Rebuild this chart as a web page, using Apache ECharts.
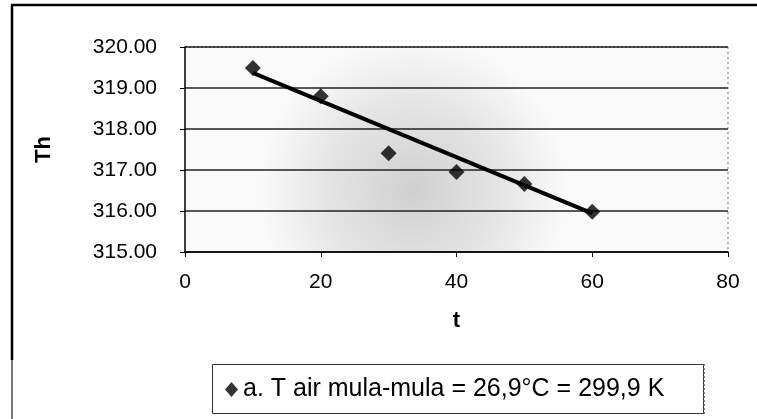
<!DOCTYPE html>
<html><head><meta charset="utf-8">
<script src="https://cdn.jsdelivr.net/npm/echarts@6/dist/echarts.min.js"></script>
<style>html,body{margin:0;padding:0;background:#fff}#c{width:757px;height:419px}</style>
</head><body><div id="c"></div>
<script>
const tValues = [10, 20, 30, 40, 50, 60];
const thValues = [319.49, 318.80, 317.41, 316.95, 316.66, 315.98];
const trendT = [10, 60];
const trendTh = [319.37, 315.94];
const seriesName = 'a. T air mula-mula = 26,9°C = 299,9 K';
const yTicks = ['315.00', '316.00', '317.00', '318.00', '319.00', '320.00'];
const xTicks = ['0', '20', '40', '60', '80'];

const chart = echarts.init(document.getElementById('c'));
const font = 'Liberation Sans, Arial, sans-serif';
chart.setOption({
  animation: false,
  backgroundColor: '#fff',
  grid: {left: 185, right: 29, top: 47, bottom: 167, show: true, borderWidth: 0,
    backgroundColor: {type: 'radial', x: 0.42, y: 0.7, r: 0.75,
      colorStops: [{offset: 0, color: '#d0d0d0'}, {offset: 0.55, color: '#e4e4e4'}, {offset: 1, color: '#fafafa'}]}},
  xAxis: {type: 'value', min: 0, max: 80, interval: 20,
    name: 't', nameLocation: 'middle', nameGap: 58,
    nameTextStyle: {fontFamily: font, fontSize: 22, fontWeight: 'bold', color: '#000'},
    axisLine: {show: true, lineStyle: {color: '#000', width: 1.5}},
    axisTick: {show: true, length: 5, lineStyle: {color: '#000'}},
    axisLabel: {fontFamily: font, fontSize: 21, color: '#000', margin: 20,
      formatter: v => xTicks[xTicks.indexOf(String(v))] || ''},
    splitLine: {show: false}},
  yAxis: {type: 'value', min: 315, max: 320, interval: 1,
    name: 'Th', nameLocation: 'middle', nameGap: 130, nameRotate: 90,
    nameTextStyle: {fontFamily: font, fontSize: 22, fontWeight: 'bold', color: '#000'},
    axisLine: {show: true, lineStyle: {color: '#000', width: 1.5}},
    axisTick: {show: true, length: 5, lineStyle: {color: '#000'}},
    axisLabel: {fontFamily: font, fontSize: 21, color: '#000', margin: 28,
      formatter: v => yTicks[Math.round(v - 315)]},
    splitLine: {show: true, lineStyle: {color: '#222', width: 1.5}}},
  legend: {show: true, left: 219, top: 365, itemGap: 0,
    borderWidth: 0, padding: [12, 6, 12, 6],
    itemWidth: 13, itemHeight: 15, icon: 'diamond',
    textStyle: {fontFamily: font, fontSize: 25, color: '#000'},
    data: [seriesName]},
  graphic: [
    {type: 'line', shape: {x1: 11, y1: 5, x2: 757, y2: 5}, style: {stroke: '#000', lineWidth: 2.5}},
    {type: 'line', shape: {x1: 12, y1: 5, x2: 12, y2: 360}, style: {stroke: '#000', lineWidth: 2.5}},
    {type: 'line', shape: {x1: 12, y1: 360, x2: 12, y2: 419}, style: {stroke: '#777', lineWidth: 2}},
    {type: 'line', shape: {x1: 185, y1: 47, x2: 728, y2: 47}, style: {stroke: '#666', lineWidth: 1.5, lineDash: [2, 2]}},
    {type: 'line', shape: {x1: 728, y1: 47, x2: 728, y2: 252}, style: {stroke: '#888', lineWidth: 1.2, lineDash: [2, 3]}},
    {type: 'rect', shape: {x: 212.5, y: 364.5, width: 491, height: 49}, style: {fill: 'none', stroke: '#333', lineWidth: 1}},
    {type: 'line', shape: {x1: 704, y1: 364, x2: 704, y2: 414}, style: {stroke: '#555', lineWidth: 1.5, lineDash: [2, 2]}}
  ],
  series: [
    {name: seriesName, type: 'scatter', symbol: 'diamond', symbolSize: 16,
      itemStyle: {color: '#000'}, z: 5,
      data: tValues.map((t, i) => [t, thValues[i]])},
    {name: 'trend', type: 'line', symbol: 'none', lineStyle: {color: '#000', width: 4}, z: 4,
      data: trendT.map((t, i) => [t, trendTh[i]])}
  ]
});
</script></body></html>
